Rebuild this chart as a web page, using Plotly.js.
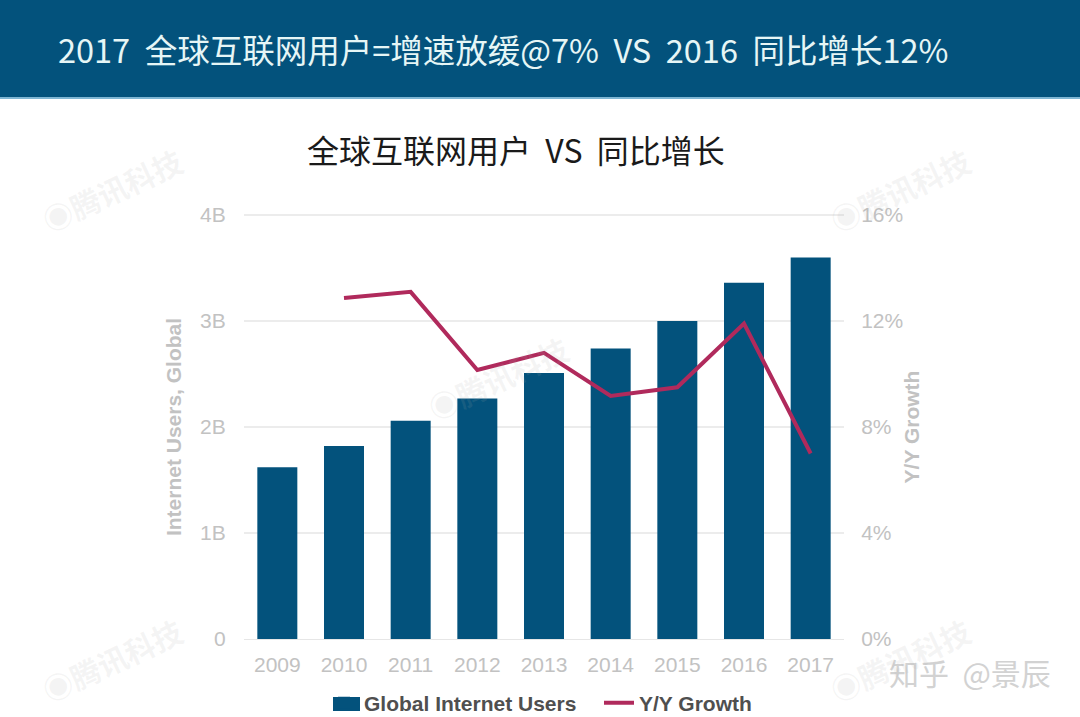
<!DOCTYPE html>
<html><head><meta charset="utf-8">
<script src="https://cdn.plot.ly/plotly-3.0.1.min.js"></script>
<style>html,body{margin:0;padding:0;background:#fff}#c{width:1080px;height:717px}</style></head>
<body><div id="c"></div>
<script>
const years = ['2009','2010','2011','2012','2013','2014','2015','2016','2017'];
const users = [1.62,1.82,2.06,2.27,2.51,2.74,3.0,3.36,3.6];
const growth = [null,12.87,13.1,10.15,10.8,9.17,9.5,11.9,7.0];
const leftTicks = [0,1,2,3,4];
const leftLabels = ['0','1B','2B','3B','4B'];
const rightTicks = [0,4,8,12,16];
const rightLabels = ['0%','4%','8%','12%','16%'];
const headerText = '2017\u00a0 全球互联网用户=增速放缓@7%\u00a0 VS\u00a0 2016\u00a0 同比增长12%';
const chartTitle = '全球互联网用户\u00a0 VS\u00a0 同比增长';
const watermarks = [[112,190],[900,190],[498,378],[112,660],[900,660]];
const cjk = '"Noto Sans CJK SC","Noto Sans",sans-serif';
const lat = 'Liberation Sans,Arial,sans-serif';
const grey = '#c2c2c2';
const navy = '#03527c';
const px = v => (v-244)/600;
const py = v => (639-v)/424;
const annotations = [
 {xref:'paper',yref:'paper',x:px(503),y:py(48),xanchor:'center',yanchor:'middle',text:headerText,showarrow:false,font:{family:cjk,size:32.5,color:'#e6f6f6'}},
 {xref:'paper',yref:'paper',x:px(516),y:py(149),xanchor:'center',yanchor:'middle',text:chartTitle,showarrow:false,font:{family:cjk,size:32,color:'#1a1a1a'}},
 {xref:'paper',yref:'paper',x:px(970),y:py(672),xanchor:'center',yanchor:'middle',text:'知乎\u00a0 @景辰',showarrow:false,font:{family:cjk,size:30,color:'#d2d2d2'}}
];
watermarks.forEach(w=>annotations.push({xref:'paper',yref:'paper',x:px(w[0]),y:py(w[1]),xanchor:'center',yanchor:'middle',text:'<b>◉腾讯科技</b>',textangle:-25,showarrow:false,font:{family:cjk,size:30,color:'rgba(170,170,170,0.13)'}}));
const data = [
 {type:'bar',name:'Global Internet Users',x:years,y:users,marker:{color:navy},yaxis:'y'},
 {type:'scatter',mode:'lines',name:'Y/Y Growth',x:years,y:growth,line:{color:'#b02a5c',width:4},yaxis:'y2',connectgaps:false}
];
const layout = {
 width:1080,height:717,showlegend:true,bargap:0.4,
 paper_bgcolor:'#fff',plot_bgcolor:'rgba(0,0,0,0)',
 margin:{l:244,r:236,t:215,b:78,autoexpand:false},
 font:{family:lat},
 shapes:[
  {type:'rect',xref:'paper',yref:'paper',x0:px(0),x1:px(1080),y0:py(97),y1:py(0),fillcolor:navy,line:{width:0},layer:'below'},
  {type:'rect',xref:'paper',yref:'paper',x0:px(0),x1:px(1080),y0:py(99),y1:py(97),fillcolor:'#7fb6d3',line:{width:0},layer:'below'},
  {type:'line',xref:'paper',yref:'paper',x0:0,x1:1,y0:1,y1:1,line:{color:'#ececec',width:2},layer:'below'},
  {type:'rect',xref:'paper',yref:'paper',x0:px(333),x1:px(360),y0:py(711),y1:py(697),fillcolor:navy,line:{width:0},layer:'above'}
 ],
 annotations:annotations,
 xaxis:{type:'category',range:[-0.5,8.5],tickfont:{size:21,color:grey,family:lat},ticks:'outside',ticklen:7,tickcolor:'rgba(0,0,0,0)',showline:true,linecolor:'#e6e6e6',showgrid:false,automargin:false},
 yaxis:{range:[0,4],tickvals:leftTicks,ticktext:leftLabels,tickfont:{size:21,color:grey,family:lat},gridcolor:'#ececec',gridwidth:2,zeroline:false,
   title:{text:'<b>Internet Users, Global</b>',font:{size:21,color:grey,family:lat},standoff:12},automargin:false,ticks:'outside',ticklen:13,tickcolor:'rgba(0,0,0,0)'},
 yaxis2:{overlaying:'y',side:'right',range:[0,16],tickvals:rightTicks,ticktext:rightLabels,tickfont:{size:21,color:grey,family:lat},showgrid:false,zeroline:false,
   title:{text:'<b>Y/Y Growth</b>',font:{size:21,color:grey,family:lat},standoff:2},automargin:false,ticks:'outside',ticklen:12,tickcolor:'rgba(0,0,0,0)'},
 legend:{orientation:'h',x:px(324),xanchor:'left',y:py(703),yanchor:'middle',font:{size:21,color:'#4f4f4f',family:lat,weight:'bold'},itemwidth:30,entrywidth:230,entrywidthmode:'pixels',bgcolor:'rgba(0,0,0,0)'}
};
Plotly.newPlot('c',data,layout,{displayModeBar:false,responsive:false});
</script></body></html>
